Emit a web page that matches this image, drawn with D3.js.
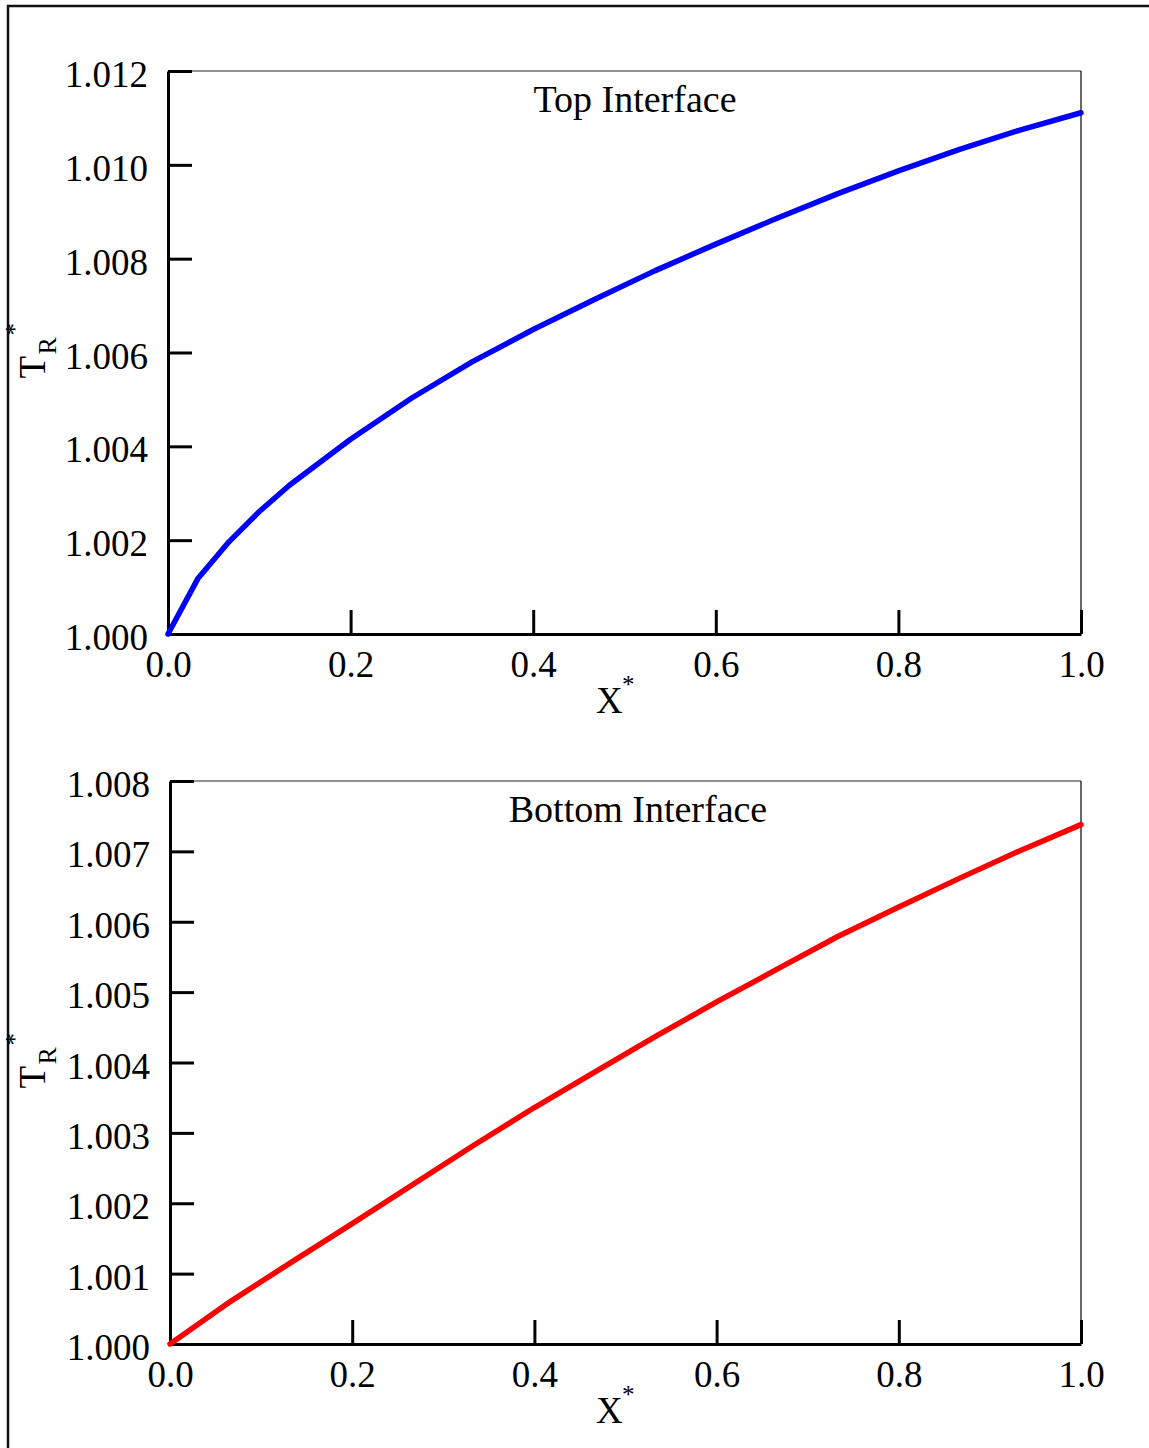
<!DOCTYPE html>
<html>
<head>
<meta charset="utf-8">
<script src="https://cdn.jsdelivr.net/npm/d3@7"></script>
<style>
  html, body { margin: 0; padding: 0; background: #fff; }
  svg { display: block; }
  text { font-family: "Liberation Serif", "Times New Roman", serif; fill: #000; }
</style>
</head>
<body>
<svg id="chart" width="1149" height="1448"></svg>
<script>
// Dimensionless position along the interface
const xTickValues = [0.0, 0.2, 0.4, 0.6, 0.8, 1.0];

// Top interface: reduced temperature T_R* vs X*
const topX = [0, 0.033, 0.067, 0.100, 0.133, 0.200, 0.267, 0.333, 0.400, 0.467,
              0.533, 0.600, 0.667, 0.733, 0.800, 0.867, 0.933, 1.000];
const topT = [1.00000, 1.00119, 1.00197, 1.00261, 1.00317, 1.00415, 1.00503, 1.00580,
              1.00649, 1.00713, 1.00774, 1.00831, 1.00886, 1.00938, 1.00987, 1.01033,
              1.01074, 1.01111];
const topYTicks = [1.000, 1.002, 1.004, 1.006, 1.008, 1.010, 1.012];

// Bottom interface: reduced temperature T_R* vs X*
const bottomX = [0, 0.067, 0.133, 0.200, 0.267, 0.333, 0.400, 0.467, 0.533, 0.600,
                 0.667, 0.733, 0.800, 0.867, 0.933, 1.000];
const bottomT = [1.00000, 1.00061, 1.00116, 1.00171, 1.00227, 1.00282, 1.00336, 1.00387,
                 1.00437, 1.00486, 1.00533, 1.00579, 1.00621, 1.00662, 1.00701, 1.00738];
const bottomYTicks = [1.000, 1.001, 1.002, 1.003, 1.004, 1.005, 1.006, 1.007, 1.008];

const panels = [
  { title: "Top Interface", xs: topX, ys: topT, yTicks: topYTicks, yDomain: [1.000, 1.012],
    color: "#0000ff", left: 168, right: 1081, top: 71, bottom: 634, titleX: 635 },
  { title: "Bottom Interface", xs: bottomX, ys: bottomT, yTicks: bottomYTicks, yDomain: [1.000, 1.008],
    color: "#ff0000", left: 170, right: 1081, top: 781, bottom: 1344, titleX: 638 }
];

const svg = d3.select("#chart");
const FS = 37;

// Outer frame of the figure
svg.append("path")
  .attr("d", "M8,1450V6H1151")
  .attr("fill", "none")
  .attr("stroke", "#111")
  .attr("stroke-width", 2.5);

panels.forEach(p => {
  const x = d3.scaleLinear().domain([0, 1]).range([p.left, p.right]);
  const y = d3.scaleLinear().domain(p.yDomain).range([p.bottom, p.top]);
  const g = svg.append("g");

  // thin top and right frame edges
  g.append("line")
    .attr("x1", p.left).attr("x2", p.right).attr("y1", p.top).attr("y2", p.top)
    .attr("stroke", "#6e6e6e").attr("stroke-width", 1.5);
  g.append("line")
    .attr("x1", p.right).attr("x2", p.right).attr("y1", p.top).attr("y2", p.bottom)
    .attr("stroke", "#000").attr("stroke-width", 1.2);

  // y axis with inward ticks
  const yAxis = d3.axisLeft(y)
    .tickValues(p.yTicks)
    .tickFormat(d3.format(".3f"))
    .tickSizeInner(-24)
    .tickSizeOuter(0)
    .tickPadding(20);
  const ya = g.append("g").attr("transform", `translate(${p.left},0)`).call(yAxis);
  ya.select(".domain").attr("stroke", "#000").attr("stroke-width", 3);
  ya.selectAll(".tick line").attr("stroke", "#000").attr("stroke-width", 3);
  ya.selectAll(".tick text")
    .attr("dy", "0.42em")
    .style("font-size", FS + "px")
    .style("font-family", "'Liberation Serif', 'Times New Roman', serif");

  // x axis with inward ticks
  const xAxis = d3.axisBottom(x)
    .tickValues(xTickValues)
    .tickFormat(d3.format(".1f"))
    .tickSizeInner(-24)
    .tickSizeOuter(0)
    .tickPadding(17);
  const xa = g.append("g").attr("transform", `translate(0,${p.bottom})`).call(xAxis);
  xa.select(".domain").attr("stroke", "#000").attr("stroke-width", 3.2);
  xa.selectAll(".tick line").attr("stroke", "#000").attr("stroke-width", 3);
  xa.selectAll(".tick text")
    .style("font-size", FS + "px")
    .style("font-family", "'Liberation Serif', 'Times New Roman', serif");

  // data curve
  const pts = p.xs.map((v, i) => [v, p.ys[i]]);
  g.append("path")
    .datum(pts)
    .attr("fill", "none")
    .attr("stroke", p.color)
    .attr("stroke-width", 5.5)
    .attr("stroke-linecap", "round")
    .attr("stroke-linejoin", "round")
    .attr("d", d3.line().x(d => x(d[0])).y(d => y(d[1])));

  // panel title
  g.append("text")
    .attr("x", p.titleX).attr("y", p.top + 41)
    .attr("text-anchor", "middle")
    .style("font-size", "38px")
    .text(p.title);

  // x axis title X*
  const xt = g.append("g").attr("transform", `translate(596,${p.bottom + 79})`);
  xt.append("text").attr("x", 0).attr("y", 0).style("font-size", FS + "px").text("X");
  xt.append("text").attr("x", 26).attr("y", -20).style("font-size", "25px").text("*");

  // y axis title T_R*
  const midY = (p.top + p.bottom) / 2;
  const yt = g.append("g").attr("transform", `translate(45,${midY + 26}) rotate(-90)`);
  yt.append("text").attr("x", 0).attr("y", 0).style("font-size", FS + "px").text("T");
  yt.append("text").attr("x", 24).attr("y", 11).style("font-size", "26px").text("R");
  yt.append("text").attr("x", 43).attr("y", -22).style("font-size", "25px").text("*");
});
</script>
</body>
</html>
